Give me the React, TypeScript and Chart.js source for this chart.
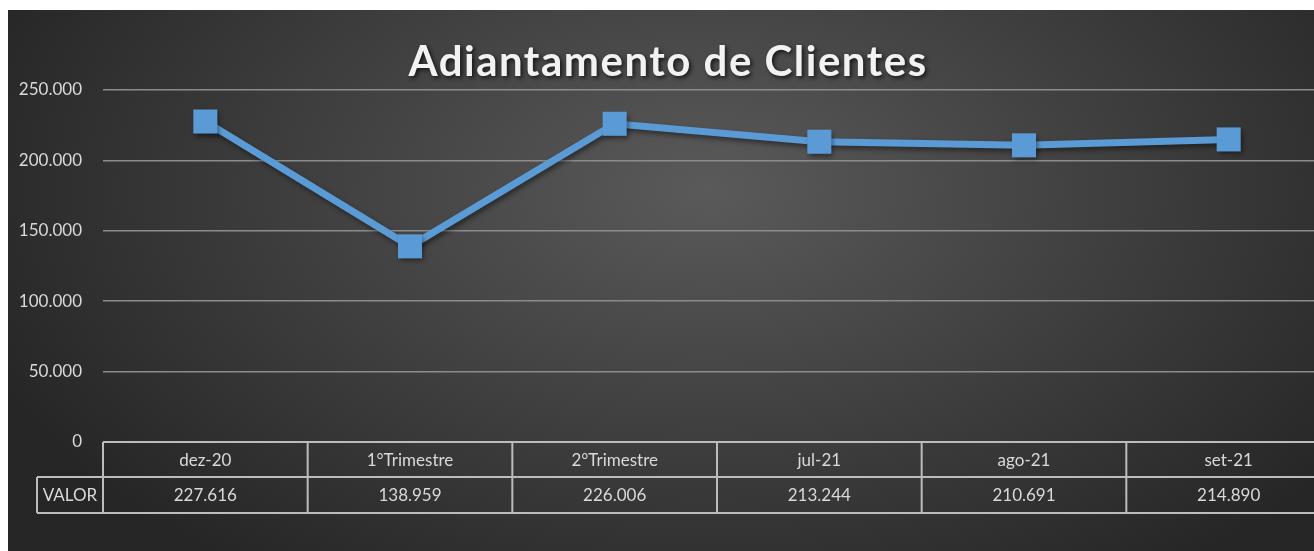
import React, { useEffect, useRef } from "react";
import { Chart, registerables } from "chart.js";

Chart.register(...registerables);

const title = "Adiantamento de Clientes";
const categories = ["dez-20", "1°Trimestre", "2°Trimestre", "jul-21", "ago-21", "set-21"];
const seriesName = "VALOR";
const values = [227616, 138959, 226006, 213244, 210691, 214890];
const yMin = 0;
const yMax = 250000;
const yStep = 50000;

const fmt = (v: number) => Math.round(v).toString().replace(/\B(?=(\d{3})+(?!\d))/g, ".");

const CANVAS_W = 1340;
const CANVAS_H = 541;
const TEXT = "#d9d9d9";
const LINE = "#5b9bd5";
const TABLE_LINE = "#bcbcbc";
const FONT = "Lato, 'Open Sans', sans-serif";

const backgroundPlugin = {
  id: "bgGradient",
  beforeDraw(chart: any) {
    const { ctx, width, height } = chart;
    ctx.save();
    ctx.fillStyle = "#262626";
    ctx.fillRect(0, 0, width, height);
    ctx.translate(700, 180);
    ctx.scale(1, 0.6);
    const g = ctx.createRadialGradient(0, 0, 0, 0, 0, 780);
    g.addColorStop(0, "#5a5a5a");
    g.addColorStop(0.5, "#404040");
    g.addColorStop(1, "#262626");
    ctx.fillStyle = g;
    ctx.fillRect(-1000, -1000, 2600, 2600);
    ctx.restore();
  },
};

const titlePlugin = {
  id: "customTitle",
  afterDraw(chart: any) {
    const { ctx } = chart;
    ctx.save();
    ctx.font = `bold 42px ${FONT}`;
    (ctx as any).letterSpacing = "1.5px";
    ctx.textAlign = "center";
    ctx.textBaseline = "middle";
    ctx.shadowColor = "rgba(0,0,0,0.7)";
    ctx.shadowBlur = 4;
    ctx.shadowOffsetX = 2;
    ctx.shadowOffsetY = 2;
    ctx.fillStyle = "#f2f2f2";
    ctx.fillText(title, 660, 52);
    ctx.restore();
  },
};

const shadowPlugin = {
  id: "lineShadow",
  beforeDatasetDraw(chart: any) {
    const { ctx } = chart;
    ctx.save();
    ctx.shadowColor = "rgba(0,0,0,0.45)";
    ctx.shadowBlur = 5;
    ctx.shadowOffsetX = 2;
    ctx.shadowOffsetY = 3;
  },
  afterDatasetDraw(chart: any) {
    chart.ctx.restore();
  },
};

const tablePlugin = {
  id: "dataTable",
  afterDraw(chart: any) {
    const { ctx, chartArea } = chart;
    const left = chartArea.left;
    const right = chartArea.right;
    const top = chartArea.bottom;
    const row1 = top + 35;
    const row2 = top + 71;
    const legendLeft = 29;
    const n = categories.length;
    const colW = (right - left) / n;
    ctx.save();
    ctx.strokeStyle = TABLE_LINE;
    ctx.lineWidth = 2;
    ctx.beginPath();
    ctx.moveTo(left, top);
    ctx.lineTo(right, top);
    ctx.moveTo(legendLeft, row1);
    ctx.lineTo(right, row1);
    ctx.moveTo(legendLeft, row2);
    ctx.lineTo(right, row2);
    ctx.moveTo(legendLeft, row1);
    ctx.lineTo(legendLeft, row2);
    for (let i = 0; i <= n; i++) {
      const x = left + i * colW;
      ctx.moveTo(x, top);
      ctx.lineTo(x, row2);
    }
    ctx.stroke();
    ctx.fillStyle = TEXT;
    ctx.font = `17px ${FONT}`;
    ctx.textAlign = "center";
    ctx.textBaseline = "middle";
    for (let i = 0; i < n; i++) {
      const cx = left + (i + 0.5) * colW;
      ctx.fillText(categories[i], cx, (top + row1) / 2 + 1);
      ctx.fillText(fmt(values[i]), cx, (row1 + row2) / 2 + 1);
    }
    ctx.fillText(seriesName, (legendLeft + left) / 2, (row1 + row2) / 2 + 1);
    ctx.restore();
  },
};

export default function App() {
  const ref = useRef<HTMLCanvasElement | null>(null);
  useEffect(() => {
    if (!ref.current) return;
    const chart = new Chart(ref.current, {
      type: "line",
      data: {
        labels: categories,
        datasets: [
          {
            label: seriesName,
            data: values,
            borderColor: LINE,
            backgroundColor: LINE,
            borderWidth: 7,
            pointStyle: "rect",
            pointRadius: 17,
            pointBorderWidth: 0,
            pointBackgroundColor: LINE,
            tension: 0,
            clip: false as any,
          },
        ],
      },
      options: {
        responsive: false,
        animation: false,
        devicePixelRatio: 1,
        layout: { padding: { left: 0, top: 80, right: CANVAS_W - 1323, bottom: CANVAS_H - 432 } },
        plugins: {
          legend: { display: false },
          title: { display: false },
          tooltip: { enabled: false },
        },
        scales: {
          x: {
            display: false,
            offset: true,
          },
          y: {
            min: yMin,
            max: yMax,
            afterFit(scale: any) {
              scale.width = 95;
            },
            ticks: {
              stepSize: yStep,
              color: TEXT,
              padding: 21,
              font: { family: FONT, size: 17 },
              callback: (v: any) => fmt(Number(v)),
            },
            grid: {
              color: "#8c8c8c",
              lineWidth: 1.5,
              drawTicks: false,
            },
            border: { display: false },
          },
        },
      },
      plugins: [backgroundPlugin, shadowPlugin, tablePlugin, titlePlugin],
    });
    return () => chart.destroy();
  }, []);
  return (
    <div
      style={{
        position: "fixed",
        left: 8,
        top: 10,
        width: 1306,
        height: CANVAS_H,
        overflow: "hidden",
      }}
    >
      <canvas ref={ref} width={CANVAS_W} height={CANVAS_H} style={{ display: "block" }} />
    </div>
  );
}
